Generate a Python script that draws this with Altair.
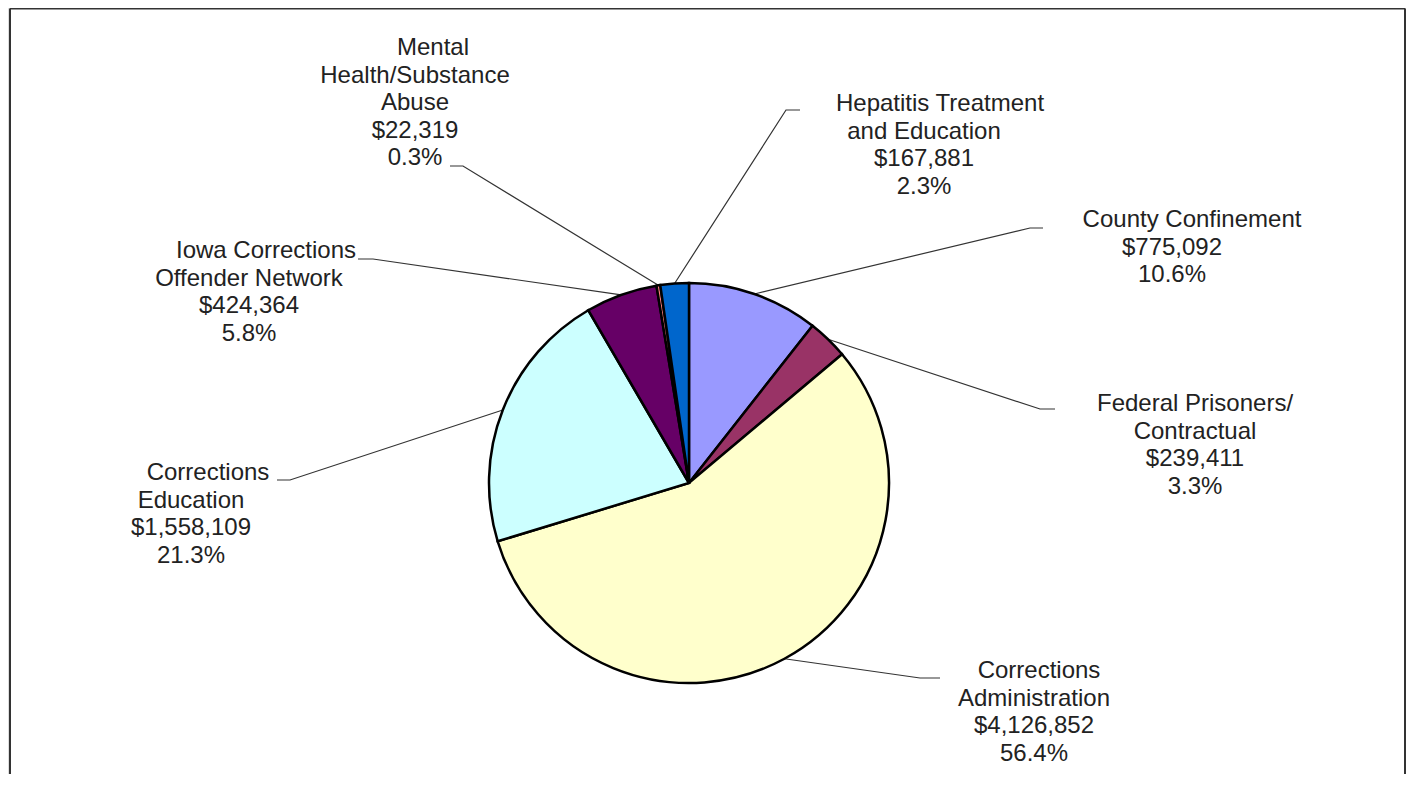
import math
import altair as alt
import pandas as pd

# ---------------- data ----------------
categories = [
    "County Confinement",
    "Federal Prisoners/Contractual",
    "Corrections Administration",
    "Corrections Education",
    "Iowa Corrections Offender Network",
    "Mental Health/Substance Abuse",
    "Hepatitis Treatment and Education",
]
values = [775092, 239411, 4126852, 1558109, 424364, 22319, 167881]
label_lines = [
    ["County  Confinement"],
    ["Federal Prisoners/", "Contractual"],
    ["Corrections", "Administration"],
    ["Corrections", "Education"],
    ["Iowa Corrections", "Offender Network"],
    ["Mental", "Health/Substance", "Abuse"],
    ["Hepatitis  Treatment", "and Education"],
]
colors = ["#9999FF", "#993366", "#FFFFCC", "#CCFFFF", "#660066", "#FF8080", "#0066CC"]

# ---------------- layout (page pixels) ----------------
W, H = 1398, 766
CX, CY, R = 689, 483, 200
FONT = "Liberation Sans"
FS = 24
LINE_STEP = 27.6
# center x of text block, y of first line, x of first line
label_pos = [
    (1172, 220, 1192),
    (1195, 404, 1195),
    (1034, 671, 1039),
    (191, 473, 208),
    (249, 251, 266),
    (415, 48, 433),
    (924, 104, 940),
]
# leader line elbow and end
leader_pts = [
    ((1030, 228), (1043, 228)),
    ((1040, 409), (1055, 409)),
    ((920, 678), (940, 678)),
    ((290, 480), (277, 480)),
    ((373, 259), (358, 259)),
    ((463, 166), (450, 166)),
    ((786, 110), (800, 110)),
]

total = sum(values)
pie = pd.DataFrame({
    "category": categories,
    "value": values,
    "order": list(range(len(categories))),
})

# text rows
rows = []
for i, cat in enumerate(categories):
    cx, y0, x0 = label_pos[i]
    lines = label_lines[i] + ["${:,}".format(values[i]), "{:.1f}%".format(100 * values[i] / total)]
    for j, t in enumerate(lines):
        rows.append({"text": t, "x": x0 if j == 0 else cx, "y": y0 + j * LINE_STEP})
text_df = pd.DataFrame(rows)

# leader lines: start at slice edge (mid angle from data)
lrows = []
cum = 0
for i, v in enumerate(values):
    mid = (cum + v / 2) / total * 2 * math.pi
    cum += v
    ex = CX + R * math.sin(mid)
    ey = CY - R * math.cos(mid)
    (bx, by), (nx, ny) = leader_pts[i]
    for k, (px, py) in enumerate([(ex, ey), (bx, by), (nx, ny)]):
        lrows.append({"id": i, "k": k, "x": px, "y": py})
leader_df = pd.DataFrame(lrows)

RIGHT = 8 + W - 1
BOTTOM = 8 + H
frame_df = pd.DataFrame({
    "x": [10, 10, RIGHT],
    "y": [8.5, 8.5, 8.5],
    "x2": [10, RIGHT, RIGHT],
    "y2": [BOTTOM, 8.5, BOTTOM],
})

xs = alt.Scale(domain=[8, 8 + W], nice=False, zero=False)
ys = alt.Scale(domain=[8, 8 + H], nice=False, zero=False, reverse=True)

arc = alt.Chart(pie).mark_arc(
    outerRadius=R, stroke="black", strokeWidth=2.5, strokeJoin="miter"
).encode(
    theta=alt.Theta("value:Q", stack=True),
    order=alt.Order("order:Q"),
    color=alt.Color("category:N", scale=alt.Scale(domain=categories, range=colors), legend=None),
    x=alt.value(CX - 8),
    y=alt.value(CY - 8),
)

leaders = alt.Chart(leader_df).mark_line(color="#333333", strokeWidth=1.2).encode(
    x=alt.X("x:Q", scale=xs, axis=None),
    y=alt.Y("y:Q", scale=ys, axis=None),
    detail="id:N",
    order="k:Q",
)

texts = alt.Chart(text_df).mark_text(
    font=FONT, fontSize=FS, color="#222222", align="center", baseline="middle"
).encode(
    x=alt.X("x:Q", scale=xs, axis=None),
    y=alt.Y("y:Q", scale=ys, axis=None),
    text="text:N",
)

frame = alt.Chart(frame_df).mark_rule(color="#333333", strokeWidth=2).encode(
    x=alt.X("x:Q", scale=xs, axis=None),
    y=alt.Y("y:Q", scale=ys, axis=None),
    x2="x2:Q",
    y2="y2:Q",
)

chart = alt.layer(frame, leaders, arc, texts).properties(
    width=W, height=H, padding=0,
    autosize=alt.AutoSizeParams(type="none"),
).configure_view(stroke=None).configure(background="white")

chart.save("out.html", embed_options={"renderer": "svg", "actions": False})
